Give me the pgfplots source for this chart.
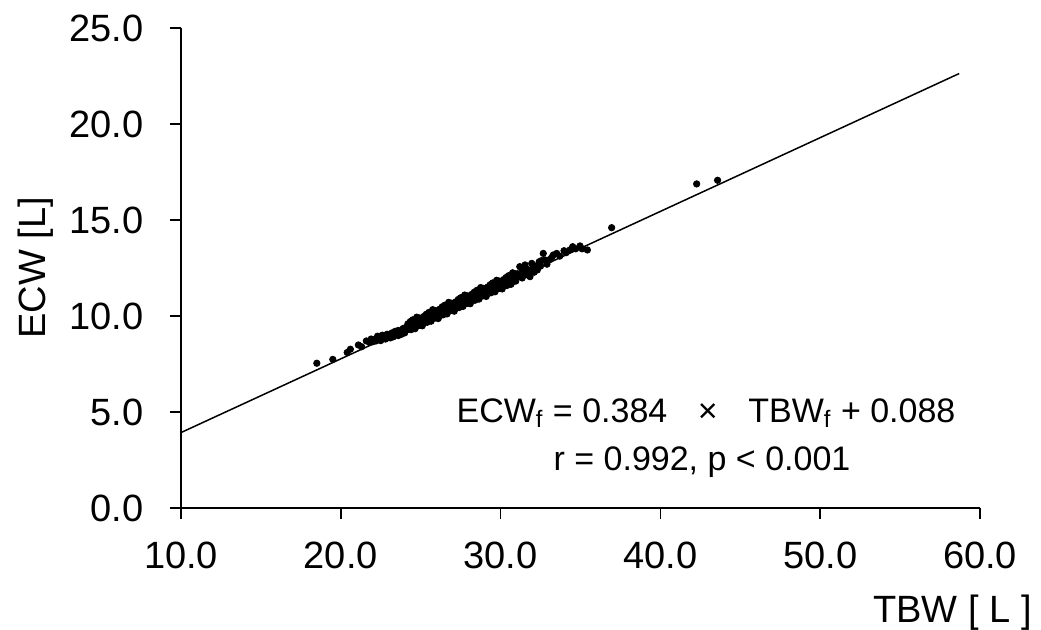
\documentclass[border=0pt]{standalone}
\usepackage{pgfplots}
\pgfplotsset{compat=1.18}
\usepackage{fontspec}
\setmainfont{Liberation Sans}
\begin{document}
\begin{tikzpicture}
\useasboundingbox (-90.5pt,-60.5pt) rectangle (430pt,254pt);
\begin{axis}[
  at={(0,0)}, anchor=south west,
  scale only axis, width=399.5pt, height=240pt,
  xmin=10, xmax=60, ymin=0, ymax=25,
  axis x line*=bottom, axis y line*=left,
  axis line style={-, line width=0.8pt},
  xtick={10,20,30,40,50,60}, ytick={0,5,10,15,20,25},
  minor tick num=0,
  tick align=outside, tick style={black, line width=0.8pt},
  major tick length=5.5pt,
  /pgf/number format/assume math mode=true,
  /pgf/number format/.cd, fixed, fixed zerofill, precision=1, /pgfplots/.cd,
  tick label style={font=\fontsize{19}{21}\selectfont},
  xticklabel style={anchor=north, inner sep=0pt, yshift=-11.5pt},
  yticklabel style={anchor=east, inner sep=0pt, xshift=-13pt},
  clip=false,
]
\addplot[black, line width=0.75pt, no marks] coordinates {(10,3.928) (58.7,22.629)};
\addplot[only marks, mark=*, mark size=1.6pt, black] coordinates {
(18.5,7.54) (19.5,7.74) (20.4,8.10) (20.6,8.27) (21.1,8.49) (21.3,8.40) (21.6,8.70) (21.8,8.62)
(21.9,8.80) (22.0,8.66) (22.1,8.78) (22.2,8.70) (22.3,8.95) (22.4,8.83) (22.5,8.72) (22.6,9.00)
(22.7,8.88) (22.8,8.80) (22.9,9.05) (23.0,8.95) (23.1,8.86) (23.2,9.12) (23.3,9.02) (23.3,8.92)
(23.4,9.20) (23.5,9.08) (23.6,8.98) (23.6,9.25) (23.7,9.15) (23.8,9.05) (23.9,9.35) (23.9,9.22)
(24.0,9.12) (24.1,9.42) (24.1,9.28)
(24.20,9.59) (24.25,9.31) (24.30,9.46) (24.35,9.71) (24.40,9.29) (24.45,9.60) (24.50,9.80) (24.55,9.50)
(24.60,9.61) (24.65,9.34) (24.70,9.74) (24.75,9.94) (24.80,9.49) (24.85,9.69) (24.90,9.90) (24.95,9.52)
(25.00,9.70) (25.05,9.90) (25.10,9.49) (25.15,9.85) (25.20,9.98) (25.25,9.69) (25.30,9.84) (25.35,10.09)
(25.40,9.67) (25.45,9.98) (25.50,10.18) (25.55,9.88) (25.60,10.00) (25.65,9.73) (25.70,10.13) (25.75,10.33)
(25.80,9.88) (25.85,10.07) (25.90,10.28) (25.95,9.90) (26.00,10.08) (26.05,10.28) (26.10,9.87) (26.15,10.23)
(26.20,10.36) (26.25,10.08) (26.30,10.23) (26.35,10.48) (26.40,10.06) (26.45,10.37) (26.50,10.56) (26.55,10.26)
(26.60,10.38) (26.65,10.11) (26.70,10.51) (26.75,10.71) (26.80,10.26) (26.85,10.46) (26.90,10.67) (26.95,10.29)
(27.00,10.47) (27.05,10.67) (27.10,10.25) (27.15,10.61) (27.20,10.74) (27.25,10.46) (27.30,10.61) (27.35,10.86)
(27.40,10.44) (27.45,10.75) (27.50,10.95) (27.55,10.65) (27.60,10.77) (27.65,10.50) (27.70,10.90) (27.75,11.09)
(27.80,10.64) (27.85,10.84) (27.90,11.05) (27.95,10.67) (28.00,10.85) (28.05,11.05) (28.10,10.64) (28.15,11.00)
(28.20,11.13) (28.25,10.85) (28.30,11.00) (28.35,11.24) (28.40,10.82) (28.45,11.13) (28.50,11.33) (28.55,11.03)
(28.60,11.15) (28.65,10.88) (28.70,11.28) (28.75,11.48) (28.80,11.03) (28.85,11.23) (28.90,11.44) (28.95,11.06)
(29.00,11.23) (29.05,11.43) (29.10,11.02) (29.15,11.38) (29.20,11.51) (29.25,11.23) (29.30,11.38) (29.35,11.63)
(29.40,11.21) (29.45,11.52) (29.50,11.72) (29.55,11.42) (29.60,11.53) (29.65,11.26) (29.70,11.66) (29.75,11.86)
(29.80,11.41) (29.85,11.61) (29.90,11.82) (29.95,11.44) (30.00,11.62) (30.05,11.82) (30.10,11.41) (30.15,11.77)
(30.20,11.90) (30.25,11.61) (30.30,11.76) (30.35,12.01) (30.40,11.59) (30.45,11.90) (30.50,12.10) (30.55,11.80)
(30.60,11.92) (30.65,11.65) (30.70,12.05) (30.75,12.25) (30.80,11.80) (30.85,11.99) (30.90,12.20) (30.95,11.82)
(31.00,12.00) (31.05,12.20)
(31.15,12.10) (31.2,12.57) (31.3,12.25) (31.35,11.98) (31.45,12.35) (31.53,12.66) (31.6,12.15) (31.7,12.42)
(31.75,12.20) (31.84,12.05) (31.9,12.30) (31.95,12.74) (32.05,12.55) (32.1,12.28) (32.25,12.62) (32.3,12.40)
(32.42,12.83) (32.5,12.60) (32.55,12.88) (32.67,13.26) (32.78,12.92) (32.9,12.70) (33.1,12.95) (33.2,13.05)
(33.3,13.18) (33.51,13.26) (33.7,13.12) (33.97,13.40) (34.1,13.30) (34.34,13.44) (34.51,13.61) (34.7,13.50)
(34.97,13.65) (35.1,13.50) (35.43,13.44)
(36.95,14.60) (42.27,16.88) (43.58,17.07)
};
\end{axis}
\node[rotate=90, anchor=base, font=\fontsize{19}{21}\selectfont] at (-67.5pt,120pt) {ECW [L]};
\node[anchor=base east, inner sep=0pt, font=\fontsize{19}{21}\selectfont] at (425.5pt,-57pt) {TBW [ L ]};
\node[anchor=base, inner sep=0pt, font=\fontsize{17}{20}\selectfont] at (262.5pt,43pt) {ECW\textsubscript{f} = 0.384\hspace{0.9em}×\hspace{0.9em}TBW\textsubscript{f} + 0.088};
\node[anchor=base, inner sep=0pt, font=\fontsize{17}{20}\selectfont] at (260.5pt,19pt) {r = 0.992, p < 0.001};
\end{tikzpicture}
\end{document}
